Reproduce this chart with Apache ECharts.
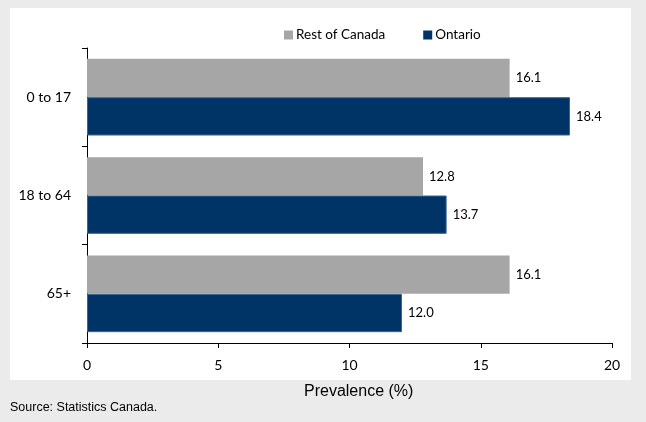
<!DOCTYPE html>
<html><head><meta charset="utf-8">
<script src="https://cdn.jsdelivr.net/npm/echarts@6/dist/echarts.min.js"></script>
<style>html,body{margin:0;padding:0;background:#ebebeb}#c{width:646px;height:422px}</style>
</head><body><div id="c"></div>
<script>
const categories = ['0 to 17', '18 to 64', '65+'];
const restOfCanada = [16.1, 12.8, 16.1];
const ontario = [18.4, 13.7, 12.0];
const xTicks = [0, 5, 10, 15, 20];

const chart = echarts.init(document.getElementById('c'), null, {renderer: 'canvas'});
const lbl = {show: true, position: 'right', distance: 6, color: '#000', fontFamily: 'Lato', fontSize: 13,
  formatter: p => p.value.toFixed(1)};
chart.setOption({
  backgroundColor: '#ebebeb',
  animation: false,
  graphic: [
    {type: 'rect', z: -10, shape: {x: 10, y: 8, width: 621, height: 372}, style: {fill: '#fff'}},
    {type: 'text', left: 304, top: 384, style: {text: 'Prevalence (%)', font: '16px "Liberation Sans"', fill: '#000'}},
    {type: 'text', left: 10, top: 401, style: {text: 'Source: Statistics Canada.', font: '12.5px "Liberation Sans"', fill: '#000'}}
  ],
  legend: {
    top: 23, left: 279, itemWidth: 9, itemHeight: 9, itemGap: 38, icon: 'rect',
    itemStyle: {borderWidth: 0},
    textStyle: {fontFamily: 'Lato', fontSize: 13.5, color: '#000', padding: [0,0,0,-2]},
    data: ['Rest of Canada', 'Ontario']
  },
  grid: {left: 87, right: 34, top: 48, bottom: 79},
  xAxis: {
    type: 'value', min: xTicks[0], max: xTicks[xTicks.length-1], interval: 5,
    axisLine: {show: true, lineStyle: {color: '#000'}},
    axisTick: {show: true, length: 5, lineStyle: {color: '#000'}},
    splitLine: {show: false},
    axisLabel: {color: '#000', fontFamily: 'Lato', fontSize: 14, margin: 15}
  },
  yAxis: {
    type: 'category', data: categories, inverse: true,
    axisLine: {show: true, lineStyle: {color: '#000'}},
    axisTick: {show: true, length: 5, lineStyle: {color: '#000'}},
    axisLabel: {color: '#000', fontFamily: 'Lato', fontSize: 14, margin: 16}
  },
  series: [
    {name: 'Rest of Canada', type: 'bar', data: restOfCanada, barGap: '0%', barCategoryGap: '22%',
     itemStyle: {color: '#a6a6a6'}, label: lbl},
    {name: 'Ontario', type: 'bar', data: ontario, barGap: '0%', barCategoryGap: '22%',
     itemStyle: {color: '#003366', borderColor: '#3d6590', borderWidth: 1}, label: lbl}
  ]
});
</script></body></html>
